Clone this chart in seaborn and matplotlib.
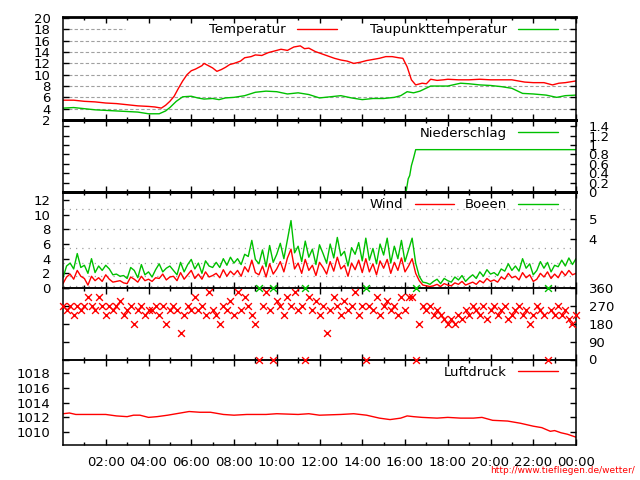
import matplotlib
matplotlib.use("Agg")
import matplotlib.pyplot as plt
import seaborn as sns

# temperature and dew point, hour of day -> deg C
temp_hours = [0.0, 0.5, 1.0, 1.5, 2.0, 2.5, 3.0, 3.5, 4.0, 4.3, 4.6, 4.8, 5.0, 5.2, 5.4, 5.6,
              5.8, 6.0, 6.2, 6.5, 6.6, 6.8, 7.0, 7.2, 7.4, 7.6, 7.8, 8.0, 8.3, 8.5, 8.8, 9.0,
              9.3, 9.6, 9.9, 10.2, 10.5, 10.8, 11.1, 11.3, 11.5, 11.8, 12.1, 12.4, 12.7, 13.0,
              13.3, 13.6, 13.9, 14.2, 14.5, 14.8, 15.1, 15.4, 15.7, 15.9, 16.1, 16.3, 16.5,
              16.8, 17.0, 17.2, 17.5, 17.8, 18.0, 18.5, 19.0, 19.5, 20.0, 20.5, 21.0, 21.3,
              21.6, 22.0, 22.5, 22.9, 23.2, 23.5, 24.0]
temp_values = [5.5, 5.5, 5.3, 5.2, 5.0, 4.9, 4.7, 4.5, 4.4, 4.3, 4.1, 4.6, 5.3, 6.2, 7.6, 8.9,
               10.0, 10.7, 11.0, 11.6, 12.0, 11.6, 11.2, 10.6, 10.9, 11.3, 11.8, 12.0, 12.4, 13.0,
               13.2, 13.5, 13.4, 13.9, 14.2, 14.5, 14.3, 14.9, 15.1, 14.6, 14.7, 14.1, 13.7, 13.3,
               12.9, 12.6, 12.4, 12.0, 12.2, 12.5, 12.7, 12.9, 13.2, 13.2, 13.0, 12.9, 11.4, 9.1,
               8.2, 8.5, 8.4, 9.2, 9.0, 9.1, 9.2, 9.1, 9.1, 9.2, 9.1, 9.1, 9.1, 8.9, 8.7, 8.6,
               8.6, 8.2, 8.5, 8.6, 8.9]
dew_hours = [0.0, 0.5, 1.0, 1.5, 2.0, 2.5, 3.0, 3.5, 4.0, 4.5, 4.8, 5.0, 5.3, 5.6, 6.0, 6.3,
             6.6, 7.0, 7.3, 7.6, 8.0, 8.5, 9.0, 9.5, 10.0, 10.5, 11.0, 11.5, 12.0, 12.5, 13.0,
             13.5, 14.0, 14.5, 15.0, 15.5, 15.8, 16.1, 16.4, 16.7, 17.2, 17.6, 18.0, 18.6, 19.0,
             19.5, 20.0, 20.5, 21.0, 21.5, 22.0, 22.6, 23.1, 23.5, 24.0]
dew_values = [4.1, 4.2, 4.0, 3.8, 3.7, 3.6, 3.5, 3.4, 3.1, 3.1, 3.6, 4.2, 5.3, 6.1, 6.2, 5.9,
              5.7, 5.8, 5.6, 5.9, 6.0, 6.3, 6.9, 7.1, 7.0, 6.6, 6.8, 6.5, 5.9, 6.1, 6.3,
              5.9, 5.6, 5.8, 5.8, 6.0, 6.3, 7.0, 6.8, 7.1, 8.0, 8.0, 8.0, 8.5, 8.4,
              8.2, 8.1, 7.9, 7.6, 6.7, 6.6, 6.4, 6.0, 6.3, 6.4]

# precipitation sum, mm
rain_hours = [0.0, 16.05, 16.15, 16.22, 16.3, 16.4, 16.5, 24.0]
rain_values = [0.0, 0.0, 0.28, 0.35, 0.56, 0.72, 0.9, 0.9]

# wind every 10 minutes from 00:00, m/s
wind_values = [0.6, 1.5, 1.9, 1.2, 2.4, 1.6, 1.3,
               0.4, 1.6, 1.0, 1.4, 0.9, 1.8,
               1.2, 0.8, 0.9, 1.0, 0.7, 0.6,
               1.5, 1.2, 0.8, 1.6, 1.0, 1.2,
               0.9, 1.4, 1.3, 1.9, 1.1, 1.5,
               1.6, 1.0, 2.1, 1.2, 1.8, 2.4,
               1.3, 1.9, 1.2, 2.2, 1.5, 1.7,
               2.0, 1.4, 2.5, 1.6, 2.3, 1.8,
               2.4, 1.6, 2.9, 2.2, 3.8, 2.1,
               1.8, 3.0, 1.5, 3.3, 1.9, 2.6,
               3.6, 2.2, 4.1, 5.3, 2.6, 3.4,
               2.0, 3.9, 2.4, 3.1, 1.7, 3.5,
               2.8, 1.9, 3.6, 2.3, 4.2, 2.6,
               3.1, 1.6, 3.4, 2.5, 3.8, 2.1,
               4.0, 2.2, 3.3, 1.8, 3.7, 2.7,
               3.9, 2.0, 3.5, 2.4, 4.1, 2.2,
               3.0, 4.0, 2.0, 1.0, 0.4, 0.3,
               0.2, 0.3, 0.5, 0.2, 0.6, 0.4,
               0.3, 0.7, 0.5, 0.9, 0.4, 0.6,
               0.8, 0.5, 1.0, 0.7, 1.3, 0.9,
               1.1, 0.8, 1.5, 1.2, 2.0, 1.4,
               1.6, 1.1, 2.1, 1.4, 1.8, 0.9,
               1.2, 2.0, 1.5, 2.2, 1.3, 1.9,
               1.4, 2.3, 1.7, 2.4, 1.8, 2.0]
gust_values = [1.4, 3.0, 3.4, 2.6, 4.7, 2.8, 3.1,
               2.0, 4.0, 2.1, 3.0, 2.4, 3.1,
               2.6, 1.8, 1.9, 1.6, 1.7, 1.3,
               2.8, 2.4, 1.4, 3.2, 1.8, 2.2,
               1.5, 2.5, 3.3, 2.2, 2.7, 3.0,
               2.4, 1.8, 3.5, 2.2, 3.2, 3.9,
               2.6, 3.4, 2.0, 3.7, 3.0, 2.8,
               3.5, 2.8, 4.0, 3.1, 4.2, 3.4,
               4.0, 3.2, 4.6, 4.3, 6.5, 3.9,
               3.3, 5.2, 2.9, 5.8, 3.5, 4.6,
               6.1, 4.0, 6.6, 9.2, 4.8, 5.7,
               3.6, 6.4, 4.2, 5.3, 3.2, 5.9,
               4.7, 3.4, 6.0, 4.1, 6.9, 4.4,
               5.0, 3.0, 5.5, 4.6, 6.2, 3.7,
               6.8, 3.8, 5.4, 3.3, 6.0, 4.5,
               6.8, 3.4, 5.7, 4.0, 6.5, 3.6,
               5.2, 6.8, 3.4, 1.6, 0.8, 0.7,
               0.5, 0.9, 1.2, 0.6, 1.3, 1.0,
               0.8, 1.5, 1.1, 1.7, 0.9, 1.4,
               1.8, 1.3, 2.2, 1.6, 2.5, 1.9,
               2.1, 1.7, 2.6, 2.3, 3.3, 2.4,
               3.0, 2.3, 4.0, 2.7, 3.3, 1.8,
               2.4, 3.6, 2.7, 3.5, 2.2, 3.1,
               2.9, 3.8, 3.0, 4.1, 3.2, 4.0]
# wind direction every 10 minutes, degrees
dir_values = [270, 247.5, 270, 225, 270, 247.5, 270,
              315, 270, 247.5, 315, 270, 225,
              270, 247.5, 270, 292.5, 225, 247.5,
              270, 180, 247.5, 270, 225, 247.5,
              247.5, 270, 225, 270, 180, 247.5,
              270, 247.5, 135, 225, 270, 247.5,
              315, 247.5, 270, 225, 337.5, 247.5,
              225, 180, 270, 247.5, 292.5, 225,
              337.5, 247.5, 315, 270, 225, 180,
              0, 270, 337.5, 247.5, 0, 292.5,
              270, 225, 315, 270, 337.5, 247.5,
              270, 0, 315, 247.5, 292.5, 225,
              270, 135, 247.5, 315, 270, 225,
              292.5, 247.5, 270, 337.5, 225, 270,
              0, 270, 247.5, 315, 225, 270,
              292.5, 247.5, 270, 225, 315, 247.5,
              315, 315, 0, 180, 270, 247.5,
              270, 225, 247.5, 225, 202.5, 180,
              202.5, 180, 225, 202.5, 247.5, 225,
              270, 247.5, 225, 270, 202.5, 247.5,
              270, 225, 247.5, 270, 202.5, 225,
              247.5, 270, 225, 247.5, 180, 225,
              270, 247.5, 225, 0, 247.5, 225,
              270, 225, 247.5, 202.5, 180, 225]
north_hours = [9.17, 9.83, 11.33, 14.17, 16.5, 22.67]
north_values = [360, 360, 360, 360, 360, 360]

# air pressure, hPa
pressure_hours = [0.0, 0.3, 0.6, 1.0, 2.0, 2.5, 3.0, 3.3, 3.6, 4.0, 4.4, 4.9, 5.5, 5.9, 6.4,
                  6.9, 7.5, 8.0, 8.6, 9.5, 10.0, 11.0, 11.5, 12.0, 13.0, 13.6, 14.2, 14.8,
                  15.3, 15.8, 16.1, 16.4, 16.8, 17.5, 18.0, 18.6, 19.2, 19.6, 20.1, 20.8,
                  21.4, 22.0, 22.4, 22.8, 23.0, 23.3, 23.6, 24.0]
pressure_values = [1012.5, 1012.6, 1012.4, 1012.4, 1012.4, 1012.2, 1012.1, 1012.3, 1012.3,
                   1012.0, 1012.1, 1012.3, 1012.6, 1012.8, 1012.7, 1012.7, 1012.4, 1012.3,
                   1012.4, 1012.4, 1012.5, 1012.4, 1012.5, 1012.3, 1012.4, 1012.5, 1012.3,
                   1011.9, 1011.7, 1011.9, 1012.2, 1012.1, 1012.0, 1011.9, 1012.0, 1011.9,
                   1011.9, 1012.0, 1011.6, 1011.5, 1011.2, 1010.8, 1010.6, 1010.1, 1010.2,
                   1009.9, 1009.7, 1009.3]

time_labels = ["02:00", "04:00", "06:00", "08:00", "10:00", "12:00",
               "14:00", "16:00", "18:00", "20:00", "22:00", "00:00"]
bft_ticks = [6.7, 9.4]
bft_labels = ["4", "5"]
bft_limits = [0.3, 1.6, 3.4, 5.5, 8.0, 10.8]

RED = "#ff0000"
GREEN = "#00c000"
GRID = "#a0a0a0"
FS = 9.5

sns.set_theme(style="ticks")
plt.rcParams["font.family"] = ["DejaVu Sans"]
plt.rcParams.update({"font.size": FS, "xtick.labelsize": FS, "ytick.labelsize": FS,
                     "legend.fontsize": FS, "axes.edgecolor": "black",
                     "xtick.color": "black", "ytick.color": "black", "text.color": "black"})

wind_hours = [i / 6 for i in range(len(wind_values))]

fig = plt.figure(figsize=(6.4, 4.8), dpi=100)


def panel(top, bottom):
    ax = fig.add_axes([63 / 640, 1 - bottom / 480, 513 / 640, (bottom - top) / 480])
    ax.set_xlim(0, 24)
    ax.set_xticks(range(2, 25, 2))
    ax.set_xticks(range(1, 24, 2), minor=True)
    ax.tick_params(axis="x", which="both", direction="in", top=True, bottom=True,
                   labelbottom=False, width=1, pad=8)
    ax.tick_params(axis="x", which="major", length=4)
    ax.tick_params(axis="x", which="minor", length=2.5)
    ax.tick_params(axis="y", direction="in", left=True, right=True, length=4, width=1, pad=9)
    ax.patch.set_alpha(0)
    for side in ax.spines.values():
        side.set_linewidth(1.1)
    return ax


def key(ax, h, spacing):
    ax.legend(loc="center right", bbox_to_anchor=(0.965, 1 - 13 / h), ncol=2,
              markerfirst=False, frameon=False, borderpad=0, borderaxespad=0,
              handlelength=3.0, handletextpad=0.9, columnspacing=spacing)


# temperature
ax1 = panel(17, 120)
for t in range(4, 18, 2):
    ax1.axhline(t, color=GRID, lw=0.8, ls=(0, (3, 2)), zorder=0)
ax1.axhline(18, xmin=0, xmax=0.121, color=GRID, lw=0.8, ls=(0, (3, 2)), zorder=0)
ax1.axhline(18, xmin=0.975, xmax=1, color=GRID, lw=0.8, ls=(0, (3, 2)), zorder=0)
sns.lineplot(x=temp_hours, y=temp_values, ax=ax1, color=RED, lw=1, label="Temperatur")
sns.lineplot(x=dew_hours, y=dew_values, ax=ax1, color=GREEN, lw=1, label="Taupunkttemperatur")
ax1.set_ylim(2, 20.2)
ax1.set_yticks(range(2, 21, 2))
ax1.spines["top"].set_linewidth(2)
ax1.spines["bottom"].set_linewidth(2)
key(ax1, 103, 2.5)

# precipitation
ax2 = panel(120, 192)
sns.lineplot(x=rain_hours, y=rain_values, ax=ax2, color=GREEN, lw=1, label="Niederschlag")
ax2.set_ylim(0, 1.53)
ax2.set_yticks([0, 0.2, 0.4, 0.6, 0.8, 1.0, 1.2, 1.4])
ax2.set_yticklabels(["0", "0.2", "0.4", "0.6", "0.8", "1", "1.2", "1.4"])
ax2.tick_params(axis="y", labelleft=False, labelright=True)
ax2.spines["top"].set_linewidth(2)
ax2.spines["bottom"].set_linewidth(2)
key(ax2, 72, 1.0)

# wind
ax3 = panel(192, 288)
for b in bft_limits:
    ax3.axhline(b, color=GRID, lw=0.9, ls=(0, (1, 4)), zorder=0)
sns.lineplot(x=wind_hours, y=wind_values, ax=ax3, color=RED, lw=1, label="Wind")
sns.lineplot(x=wind_hours, y=gust_values, ax=ax3, color=GREEN, lw=1, label="Boeen")
ax3.set_ylim(0, 13.1)
ax3.set_yticks(range(0, 13, 2))
ax3.tick_params(axis="y", right=False)
ax3.spines["top"].set_linewidth(2)
key(ax3, 96, 0.75)
ax3r = ax3.twinx()
ax3r.set_ylim(0, 13.1)
ax3r.set_yticks(bft_ticks)
ax3r.set_yticklabels(bft_labels)
ax3r.tick_params(axis="y", direction="in", length=4, width=1, pad=9)
for side in ax3r.spines.values():
    side.set_visible(False)

# wind direction (drawn above its neighbours so markers on the borders stay whole)
ax4 = panel(288, 359.5)
ax4.set_zorder(5)
sns.scatterplot(x=wind_hours, y=dir_values, ax=ax4, color=RED, marker="x", s=24,
                linewidth=1, clip_on=False, zorder=3)
sns.scatterplot(x=north_hours, y=north_values, ax=ax4, color=GREEN, marker="x", s=24,
                linewidth=1, clip_on=False, zorder=3)
ax4.set_ylim(0, 360)
ax4.set_yticks(range(0, 361, 90))
ax4.tick_params(axis="y", labelleft=False, labelright=True)

# pressure
ax5 = panel(359.5, 444.5)
sns.lineplot(x=pressure_hours, y=pressure_values, ax=ax5, color=RED, lw=1, label="Luftdruck")
ax5.set_ylim(1008.3, 1019.9)
ax5.set_yticks(range(1010, 1019, 2))
ax5.set_xticklabels(time_labels)
ax5.tick_params(axis="x", labelbottom=True)
key(ax5, 85, 1.0)

fig.text(0.992, 0.019, "http://www.tiefliegen.de/wetter/", color=RED, fontsize=6.5,
         ha="right", va="center")

fig.savefig("out.png", dpi=100)
